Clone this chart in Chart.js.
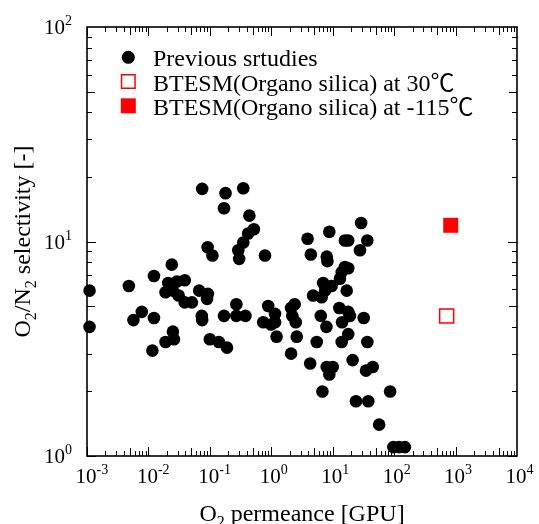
<!DOCTYPE html>
<html><head><meta charset="utf-8">
<script src="https://cdn.jsdelivr.net/npm/chart.js@4.4.0/dist/chart.umd.min.js"></script>
<style>html,body{margin:0;padding:0;background:#fff}#wrap{width:539px;height:524px;position:relative}</style>
</head><body><div id="wrap"><canvas id="c"></canvas></div>
<script>
// ---- data (O2 permeance [GPU], O2/N2 selectivity [-]) ----
const prevX = [0.0011,0.0011,0.0048,0.0057,0.0078,0.0116,0.0123,0.0123,0.024,0.021,
  0.029,0.039,0.019,0.025,0.031,0.039,0.051,0.025,0.026,0.019,
  0.067,0.093,0.09,0.074,0.075,0.17,0.27,0.27,0.38,0.10,
  0.14,0.19,
  0.075,0.18,0.35,0.17,0.44,0.52,0.42,0.35,0.29,0.30,0.092,0.11,0.79,
  0.89,1.15,0.74,0.99,1.15,1.22,2.4,2.1,2.2,2.5,2.6,2.1,
  29,8.8,3.9,15.8,17.9,36.6,27.8,4.4,8.0,8.2,
  15.8,17.9,14.0,13.1,7.0,9.6,7.5,4.8,6.6,16.9,
  12.8,17.9,19.1,6.4,32,7.9,14.2,17.9,14.0,5.5,
  36.6,4.3,8.0,10.0,8.8,21.1,34.8,44.8,6.8,86,
  23.9,37.9,57,97,120,150];
const prevY = [5.9,4.0,6.2,4.3,4.7,3.1,6.9,4.4,7.8,6.4,
  6.5,6.6,5.8,5.9,5.6,5.2,5.2,3.8,3.5,3.4,
  5.9,5.7,5.4,4.5,4.3,4.5,5.1,4.5,4.5,3.5,
  3.4,3.2,
  17.6,16.8,17.7,14.3,13.2,11.4,10.9,9.9,9.1,8.3,9.4,8.6,8.6,
  5.0,4.6,4.2,4.1,4.2,3.6,5.1,4.9,4.5,4.2,3.6,3.0,
  12.2,11.1,10.3,10.1,10.1,10.1,9.1,8.7,8.5,8.1,
  7.6,7.5,7.2,6.7,6.4,6.2,5.9,5.6,5.5,5.9,
  4.9,4.7,4.5,4.5,4.4,4.0,4.2,3.7,3.4,3.4,
  3.4,2.7,2.6,2.6,2.4,2.8,2.5,2.6,2.0,2.0,
  1.8,1.8,1.4,1.1,1.1,1.1];
const btesm30X = [716];
const btesm30Y = [4.5];
const btesmColdX = [834];
const btesmColdY = [11.9];
const seriesLabels = ['Previous srtudies', 'BTESM(Organo silica) at 30\u2103', 'BTESM(Organo silica) at -115\u2103'];
const xTickExps = ['-3','-2','-1','0','1','2','3','4'];
const yTickExps = ['0','1','2'];
const xTitle = [{t:'O'},{t:'2',mode:'sub'},{t:' permeance [GPU]'}];
const yTitle = [{t:'O'},{t:'2',mode:'sub'},{t:'/N'},{t:'2',mode:'sub'},{t:' selectivity [-]'}];

const FONT = '"Liberation Serif","Times New Roman","Noto Sans CJK JP",serif';
const toPts = (xs, ys) => xs.map((x, i) => ({x, y: ys[i]}));

function segWidths(ctx, segs, size){
  const small = Math.round(size*0.65);
  return segs.map(s => { ctx.font = (s.mode ? small : size) + 'px ' + FONT; return ctx.measureText(s.t).width; });
}
function drawSegs(ctx, segs, x, y, align, size){
  const small = Math.round(size*0.65);
  const w = segWidths(ctx, segs, size);
  const total = w.reduce((a,b)=>a+b,0);
  let cx = align==='center' ? x-total/2 : (align==='right' ? x-total : x);
  ctx.textAlign = 'left'; ctx.textBaseline = 'alphabetic';
  segs.forEach((s,i)=>{
    ctx.font = (s.mode ? small : size) + 'px ' + FONT;
    const dy = s.mode==='sub' ? size*0.27 : (s.mode==='sup' ? -size*0.42 : 0);
    ctx.fillText(s.t, cx, y+dy);
    cx += w[i];
  });
}

const framePlugin = {
  id: 'frame',
  beforeDatasetsDraw(chart){
    const ctx = chart.ctx, a = chart.chartArea;
    const xs = chart.scales.x, ys = chart.scales.y;
    ctx.save();
    ctx.strokeStyle = '#000';
    ctx.lineWidth = 1;
    const ln = (x1,y1,x2,y2)=>{ctx.beginPath();ctx.moveTo(x1,y1);ctx.lineTo(x2,y2);ctx.stroke();};
    for (let e=-3; e<4; e++) for (let m=1; m<10; m++){
      const px = Math.round(xs.getPixelForValue(m*Math.pow(10,e)))+0.5;
      const len = m===1 ? 9 : (m===5 ? 8 : 5);
      ln(px, a.bottom, px, a.bottom-len);
      ln(px, a.top, px, a.top+len);
    }
    for (let e=0; e<2; e++) for (let m=1; m<10; m++){
      const py = Math.round(ys.getPixelForValue(m*Math.pow(10,e)))+0.5;
      const len = m===1 ? 9 : (m===5 ? 8 : 5);
      ln(a.left, py, a.left+len, py);
      ln(a.right, py, a.right-len, py);
    }
    ctx.lineWidth = 1.6;
    ctx.strokeRect(a.left, a.top, a.right-a.left, a.bottom-a.top);
    ctx.restore();
  },
  afterDraw(chart){
    const ctx = chart.ctx, a = chart.chartArea;
    const xs = chart.scales.x, ys = chart.scales.y;
    ctx.save();
    ctx.fillStyle = '#000';
    // x tick labels
    xTickExps.forEach(ex=>{
      const px = xs.getPixelForValue(Math.pow(10, Number(ex)));
      ctx.font = '21px ' + FONT;
      const w10 = ctx.measureText('10').width;
      drawSegs(ctx, [{t:'10'},{t:ex,mode:'sup'}], px - w10/2 - 1, 483, 'left', 21);
    });
    // y tick labels
    yTickExps.forEach(ex=>{
      const py = ys.getPixelForValue(Math.pow(10, Number(ex)));
      drawSegs(ctx, [{t:'10'},{t:ex,mode:'sup'}], 72, py+7, 'right', 21);
    });
    // axis titles
    drawSegs(ctx, xTitle, (a.left+a.right)/2, 521, 'center', 24);
    ctx.save();
    ctx.translate(30, (a.top+a.bottom)/2);
    ctx.rotate(-Math.PI/2);
    drawSegs(ctx, yTitle, 0, 0, 'center', 24);
    ctx.restore();
    // legend
    const rows = [57.3, 81.5, 105.8];
    chart.data.datasets.forEach((ds, i)=>{
      const cy = rows[i], cx = 128.3;
      ctx.save();
      if (ds.pointStyle === 'circle'){
        ctx.fillStyle = ds.backgroundColor;
        ctx.beginPath(); ctx.arc(cx, cy, 6.5, 0, Math.PI*2); ctx.fill();
      } else {
        const s = 15;
        ctx.fillStyle = ds.backgroundColor; ctx.fillRect(cx-s/2, cy-s/2, s, s);
        if (ds.borderWidth > 0){
          ctx.strokeStyle = ds.borderColor; ctx.lineWidth = ds.borderWidth;
          ctx.strokeRect(cx-s/2+0.75, cy-s/2+0.75, s-1.5, s-1.5);
        }
      }
      ctx.restore();
      ctx.fillStyle = '#000';
      drawSegs(ctx, [{t: ds.label}], 153, cy+9, 'left', 24);
    });
    ctx.restore();
  }
};

new Chart(document.getElementById('c'), {
  type: 'scatter',
  data: {
    datasets: [
      {label: seriesLabels[0], data: toPts(prevX, prevY), pointStyle: 'circle', pointRadius: 6.3,
       backgroundColor: '#000', borderColor: '#000', borderWidth: 0, clip: false},
      {label: seriesLabels[1], data: toPts(btesm30X, btesm30Y), pointStyle: 'rect', pointRadius: 9.9,
       backgroundColor: '#fff', borderColor: '#ff0000', borderWidth: 1.5, clip: false},
      {label: seriesLabels[2], data: toPts(btesmColdX, btesmColdY), pointStyle: 'rect', pointRadius: 10.6,
       backgroundColor: '#ff0000', borderColor: '#ff0000', borderWidth: 0, clip: false}
    ]
  },
  options: {
    responsive: true, maintainAspectRatio: false, animation: false, events: [],
    layout: {padding: {left: 87, right: 22, top: 27, bottom: 68}},
    scales: {
      x: {type: 'logarithmic', min: 0.001, max: 10000, display: false},
      y: {type: 'logarithmic', min: 1, max: 100, display: false}
    },
    plugins: {legend: {display: false}, tooltip: {enabled: false}}
  },
  plugins: [framePlugin]
});
</script>
</body></html>
